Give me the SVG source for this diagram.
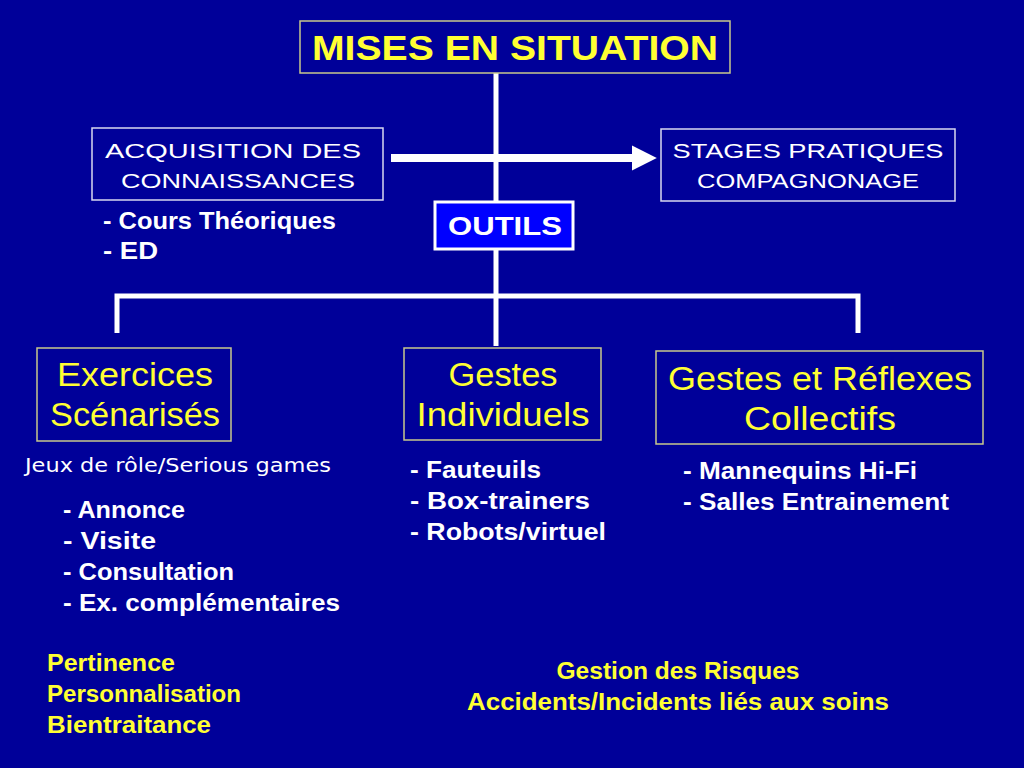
<svg xmlns="http://www.w3.org/2000/svg" width="1024" height="768" viewBox="0 0 1024 768">
<defs>
<style>
.bg{fill:#000099}
.box{fill:none;stroke:#c8c88c;stroke-width:1.5}
.wbox{fill:none;stroke:#d8d8f0;stroke-width:1.5}
.line{stroke:#ffffff;stroke-width:5;fill:none}
.t{font-family:"Liberation Sans",Arial,sans-serif;font-weight:bold}
.n{font-weight:normal}
.y{fill:#ffff33}
.w{fill:#ffffff}
.mid{text-anchor:middle}
.cap{font-size:21px}
.big{font-size:33px;font-weight:normal}
.item{font-size:23px}
</style>
<marker id="ah" viewBox="0 0 10 10" refX="0" refY="5" markerWidth="3.1" markerHeight="3.25" orient="auto" markerUnits="strokeWidth"><path d="M0,0 L10,5 L0,10 z" fill="#ffffff"/></marker>
</defs>
<rect class="bg" x="0" y="0" width="1024" height="768"/>
<g id="connectors">
<line class="line" x1="496" y1="73" x2="496" y2="346"/>
<polyline class="line" points="117,333 117,296 858,296 858,333"/>
<line stroke="#ffffff" stroke-width="8" x1="391" y1="158" x2="632" y2="158" marker-end="url(#ah)"/>
</g>
<g id="mises">
<rect x="300" y="21" width="430" height="52" fill="#000099" stroke="#c8c88c" stroke-width="1.5"/>
<text class="t y mid" x="515" y="60" font-size="35" textLength="406" lengthAdjust="spacingAndGlyphs">MISES EN SITUATION</text>
</g>
<g id="acquisition">
<rect class="wbox" x="92" y="128" width="291" height="72"/>
<text class="t w cap n" x="105" y="158" textLength="256" lengthAdjust="spacingAndGlyphs">ACQUISITION DES</text>
<text class="t w cap n" x="121" y="188" textLength="234" lengthAdjust="spacingAndGlyphs">CONNAISSANCES</text>
<text class="t w item" x="103" y="229" textLength="233" lengthAdjust="spacingAndGlyphs">- Cours Théoriques</text>
<text class="t w item" x="103" y="259" textLength="55" lengthAdjust="spacingAndGlyphs">- ED</text>
</g>
<g id="stages">
<rect class="wbox" x="661" y="129" width="294" height="72"/>
<text class="t w cap n mid" x="808" y="158" textLength="271" lengthAdjust="spacingAndGlyphs">STAGES PRATIQUES</text>
<text class="t w cap n mid" x="808" y="188" textLength="222" lengthAdjust="spacingAndGlyphs">COMPAGNONAGE</text>
</g>
<g id="outils">
<rect x="435" y="202" width="138" height="47" fill="#0000ff" stroke="#ffffff" stroke-width="3"/>
<text class="t w mid" x="505" y="235" font-size="25" textLength="114" lengthAdjust="spacingAndGlyphs">OUTILS</text>
</g>
<g id="exercices">
<rect class="box" x="37" y="348" width="194" height="93"/>
<text class="t y mid big" x="135" y="386" textLength="156" lengthAdjust="spacingAndGlyphs">Exercices</text>
<text class="t y mid big" x="135" y="426" textLength="170" lengthAdjust="spacingAndGlyphs">Scénarisés</text>
<text x="25" y="472" fill="#ffffff" font-family="DejaVu Sans,Verdana,sans-serif" font-size="20" textLength="306" lengthAdjust="spacingAndGlyphs">Jeux de rôle/Serious games</text>
<text class="t w item" x="63" y="518" textLength="122" lengthAdjust="spacingAndGlyphs">- Annonce</text>
<text class="t w item" x="63" y="549" textLength="93" lengthAdjust="spacingAndGlyphs">- Visite</text>
<text class="t w item" x="63" y="580" textLength="171" lengthAdjust="spacingAndGlyphs">- Consultation</text>
<text class="t w item" x="63" y="611" textLength="277" lengthAdjust="spacingAndGlyphs">- Ex. complémentaires</text>
</g>
<g id="gestes">
<rect class="box" x="404" y="348" width="197" height="92"/>
<text class="t y mid big" x="503" y="386" textLength="109" lengthAdjust="spacingAndGlyphs">Gestes</text>
<text class="t y mid big" x="503" y="426" textLength="173" lengthAdjust="spacingAndGlyphs">Individuels</text>
<text class="t w item" x="410" y="478" textLength="131" lengthAdjust="spacingAndGlyphs">- Fauteuils</text>
<text class="t w item" x="410" y="509" textLength="180" lengthAdjust="spacingAndGlyphs">- Box-trainers</text>
<text class="t w item" x="410" y="540" textLength="196" lengthAdjust="spacingAndGlyphs">- Robots/virtuel</text>
</g>
<g id="reflexes">
<rect class="box" x="656" y="351" width="327" height="93"/>
<text class="t y mid big" x="820" y="390" textLength="304" lengthAdjust="spacingAndGlyphs">Gestes et Réflexes</text>
<text class="t y mid big" x="820" y="430" textLength="152" lengthAdjust="spacingAndGlyphs">Collectifs</text>
<text class="t w item" x="683" y="479" textLength="234" lengthAdjust="spacingAndGlyphs">- Mannequins Hi-Fi</text>
<text class="t w item" x="683" y="510" textLength="266" lengthAdjust="spacingAndGlyphs">- Salles Entrainement</text>
</g>
<g id="qualite">
<text class="t y item" x="47" y="671" textLength="128" lengthAdjust="spacingAndGlyphs">Pertinence</text>
<text class="t y item" x="47" y="702" textLength="194" lengthAdjust="spacingAndGlyphs">Personnalisation</text>
<text class="t y item" x="47" y="733" textLength="164" lengthAdjust="spacingAndGlyphs">Bientraitance</text>
</g>
<g id="risques">
<text class="t y item mid" x="678" y="679" textLength="243" lengthAdjust="spacingAndGlyphs">Gestion des Risques</text>
<text class="t y item mid" x="678" y="710" textLength="422" lengthAdjust="spacingAndGlyphs">Accidents/Incidents liés aux soins</text>
</g>
</svg>
